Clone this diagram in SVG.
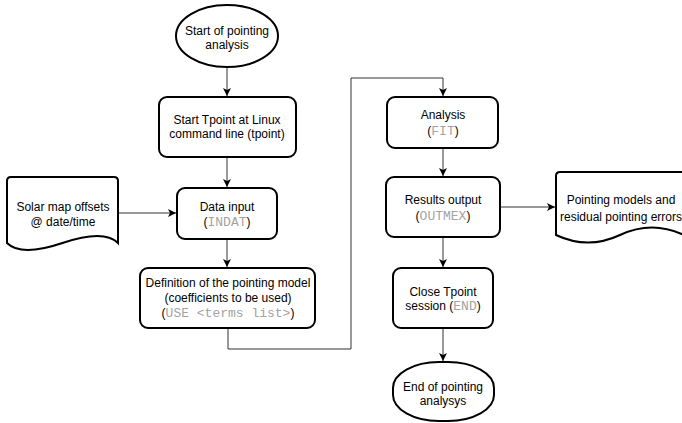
<svg xmlns="http://www.w3.org/2000/svg" width="682" height="423" viewBox="0 0 682 423">
<defs>
<style>
.n{fill:#fff;stroke:#000;stroke-width:2}
.t{font-family:"Liberation Sans",Arial,sans-serif;font-size:12px;fill:#000;text-anchor:middle}
.m{font-family:"Liberation Mono","Courier New",monospace;font-size:13px;fill:#a3a3a3}
.c{fill:none;stroke:#333;stroke-width:1}
</style>
<marker id="a" markerWidth="10" markerHeight="10" refX="8" refY="4" orient="auto" markerUnits="userSpaceOnUse">
<path d="M0,0 L8,4 L0,8 L2,4 z" fill="#000"/>
</marker>
</defs>
<rect width="682" height="423" fill="#fff"/>
<g id="connectors">
<path class="c" d="M227,67 V96" marker-end="url(#a)"/>
<path class="c" d="M227,157 V187" marker-end="url(#a)"/>
<path class="c" d="M118,213 H176" marker-end="url(#a)"/>
<path class="c" d="M227,239 V267" marker-end="url(#a)"/>
<path class="c" d="M228,328 V349 H351 V78 H443 V96" marker-end="url(#a)"/>
<path class="c" d="M443,148 V176" marker-end="url(#a)"/>
<path class="c" d="M500,207 H555" marker-end="url(#a)"/>
<path class="c" d="M443,237 V267" marker-end="url(#a)"/>
<path class="c" d="M443,328 V361" marker-end="url(#a)"/>
</g>
<g id="start">
<ellipse class="n" cx="227" cy="36" rx="51" ry="31"/>
<text class="t" x="227" y="35">Start of pointing</text>
<text class="t" x="227" y="49">analysis</text>
</g>
<g id="tpoint">
<rect class="n" x="159" y="97" width="137" height="60" rx="8"/>
<text class="t" x="227" y="124">Start Tpoint at Linux</text>
<text class="t" x="227" y="138">command line (tpoint)</text>
</g>
<g id="solar">
<path class="n" d="M7,181 Q7,177 11,177 H114 Q118,177 118,181 V243 Q104,229 62.5,243 Q21,257 7,243 Z"/>
<text class="t" x="63" y="211">Solar map offsets</text>
<text class="t" x="63" y="226">@ date/time</text>
</g>
<g id="datainput">
<rect class="n" x="177" y="188" width="100" height="51" rx="8"/>
<text class="t" x="227" y="211">Data input</text>
<text class="t" x="227" y="226">(<tspan class="m">INDAT</tspan>)</text>
</g>
<g id="definition">
<rect class="n" x="140" y="268" width="175" height="60" rx="8"/>
<text class="t" x="228" y="287">Definition of the pointing model</text>
<text class="t" x="228" y="302">(coefficients to be used)</text>
<text class="t" x="228" y="317">(<tspan class="m">USE &lt;terms list&gt;</tspan>)</text>
</g>
<g id="analysis">
<rect class="n" x="387" y="97" width="111" height="51" rx="8"/>
<text class="t" x="443" y="119">Analysis</text>
<text class="t" x="443" y="135">(<tspan class="m">FIT</tspan>)</text>
</g>
<g id="results">
<rect class="n" x="386" y="177" width="114" height="60" rx="8"/>
<text class="t" x="443" y="204">Results output</text>
<text class="t" x="443" y="220">(<tspan class="m">OUTMEX</tspan>)</text>
</g>
<g id="models">
<path class="n" d="M556,176 Q556,172 560,172 H684 V235 Q652,220 620,235 Q588,250 556,235 Z"/>
<text class="t" x="621" y="204">Pointing models and</text>
<text class="t" x="621" y="221">residual pointing errors</text>
</g>
<g id="close">
<rect class="n" x="393" y="268" width="100" height="60" rx="8"/>
<text class="t" x="443" y="296">Close Tpoint</text>
<text class="t" x="443" y="310">session (<tspan class="m">END</tspan>)</text>
</g>
<g id="end">
<rect class="n" x="393" y="362" width="101" height="59" rx="46" ry="26"/>
<text class="t" x="443" y="391">End of pointing</text>
<text class="t" x="443" y="405">analysys</text>
</g>
</svg>
